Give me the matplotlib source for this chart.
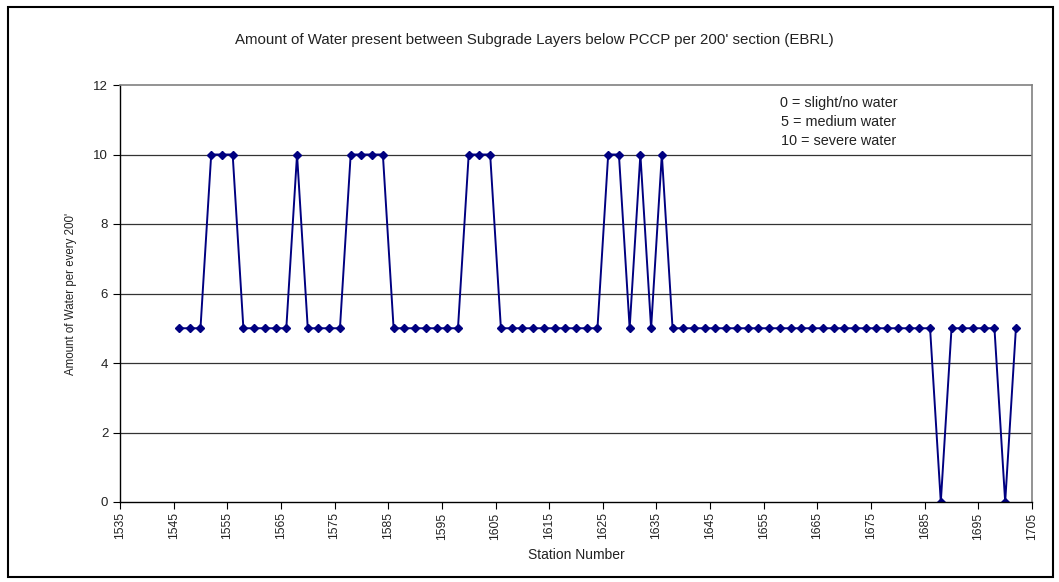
import matplotlib
matplotlib.use("Agg")
import matplotlib.pyplot as plt
from matplotlib.patches import Rectangle

# Data
stations = list(range(1546, 1703, 2))
water = ([5] * 3 + [10] * 3 + [5] * 5 + [10] + [5] * 4 + [10] * 4 + [5] * 7
         + [10] * 3 + [5] * 10 + [10, 10, 5, 10, 5, 10] + [5] * 25
         + [0] + [5] * 5 + [0] + [5])
x_ticks = list(range(1535, 1706, 10))
y_ticks = list(range(0, 13, 2))

TITLE = "Amount of Water present between Subgrade Layers below PCCP per 200' section (EBRL)"
NOTE = "0 = slight/no water\n5 = medium water\n10 = severe water"

plt.rcParams.update({
    "font.family": ["Liberation Sans", "DejaVu Sans"],
    "font.size": 9,
})

fig = plt.figure(figsize=(10.59, 5.82), dpi=100)
ax = fig.add_axes([120 / 1059, 80 / 582, 912 / 1059, 417 / 582])

ax.plot(stations, water, color="#000080", linewidth=1.4,
        marker="D", markersize=4.5, markerfacecolor="#000080",
        markeredgecolor="#000080")

ax.set_xlim(1535, 1705)
ax.set_ylim(0, 12)
ax.set_xticks(x_ticks)
ax.set_yticks(y_ticks)
ax.tick_params(axis="x", labelrotation=90, direction="out", length=5,
               pad=2.5, labelsize=8.7, colors="#222222")
ax.tick_params(axis="y", direction="out", length=5, labelsize=9.5,
               colors="#222222")
ax.tick_params(color="black")

# horizontal gridlines
for y in y_ticks[1:-1]:
    ax.axhline(y, color="#333333", linewidth=0.9, zorder=0)

for side in ["top", "right"]:
    ax.spines[side].set_color("#808080")
    ax.spines[side].set_linewidth(1.2)
for side in ["left", "bottom"]:
    ax.spines[side].set_color("black")
    ax.spines[side].set_linewidth(1.0)

ax.set_xlabel("Station Number", fontsize=10, color="#222222", labelpad=6)
ax.set_ylabel("Amount of Water per every 200'", fontsize=8.3, color="#222222",
              labelpad=12)

fig.text(0.505, 0.932, TITLE, ha="center", va="center", fontsize=10.8,
         color="#222222")
ax.text(0.788, 0.912, NOTE, transform=ax.transAxes, ha="center", va="center",
        fontsize=10.4, color="#222222", linespacing=1.45)

# outer chart border
fig.patches.append(Rectangle((8 / 1059, 5 / 582), 1045 / 1059, 570 / 582,
                             transform=fig.transFigure, fill=False,
                             edgecolor="black", linewidth=1.5))

fig.savefig("out.png", dpi=100)
